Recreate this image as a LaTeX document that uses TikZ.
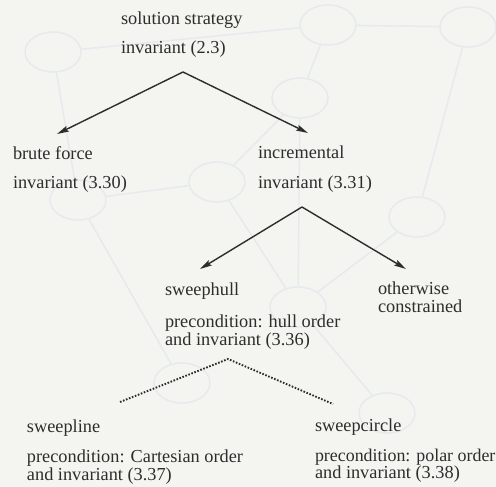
\documentclass[tikz,border=0pt]{standalone}
\usepackage{fontspec}
\setmainfont{Liberation Serif}
\usetikzlibrary{arrows.meta,shapes.geometric}
\definecolor{bgc}{RGB}{244,244,240}
\definecolor{ink}{RGB}{45,45,43}
\definecolor{ghost}{RGB}{229,234,237}
\begin{document}
\begin{tikzpicture}[x=1pt,y=-1pt,
  lbl/.style={anchor=base west,inner sep=0,outer sep=0,text=ink,font=\fontsize{18.3}{18}\selectfont},
  arr/.style={draw=ink,line width=1.4pt,-{Stealth[length=12pt,width=6pt,inset=2pt]}},
  dotl/.style={draw=ink,line width=1.9pt,dash pattern=on 1.6pt off 1.6pt},
  gnode/.style={ellipse,draw=ghost,line width=1.4pt,minimum width=56pt,minimum height=40pt,inner sep=0},
  gedge/.style={draw=ghost,line width=1.4pt}]
\fill[bgc] (0,0) rectangle (496,487);
\useasboundingbox (0,0) rectangle (496,487);
% faint background graph
\node[gnode] (g1) at (53,52) {};
\node[gnode] (g2) at (328,25) {};
\node[gnode] (g3) at (468,27) {};
\node[gnode] (g4) at (300,98) {};
\node[gnode] (g5) at (78,200) {};
\node[gnode] (g6) at (217,182) {};
\node[gnode] (g7) at (417,217) {};
\node[gnode] (g8) at (298,307) {};
\node[gnode] (g9) at (182,383) {};
\node[gnode] (g10) at (387,413) {};
\draw[gedge] (g1) -- (g2);
\draw[gedge] (g2) -- (g3);
\draw[gedge] (g2) -- (g4);
\draw[gedge] (g3) -- (g7);
\draw[gedge] (g1) -- (g5);
\draw[gedge] (g5) -- (g6);
\draw[gedge] (g4) -- (g6);
\draw[gedge] (g4) -- (g8);
\draw[gedge] (g6) -- (g8);
\draw[gedge] (g7) -- (g8);
\draw[gedge] (g5) -- (g9);
\draw[gedge] (g8) -- (g10);
% labels
\node[lbl] (ss) at (121,25) {solution strategy};
\node[lbl] (ssi) at (121,54) {invariant (2.3)};
\node[lbl] (bf) at (13,160) {brute force};
\node[lbl] (bfi) at (13,188) {invariant (3.30)};
\node[lbl] (inc) at (258,158) {incremental};
\node[lbl] (inci) at (258,188) {invariant (3.31)};
\node[lbl] (sh) at (165,295) {sweephull};
\node[lbl] (shp) at (165,327) {precondition: hull order};
\node[lbl] (shi) at (165,345) {and invariant (3.36)};
\node[lbl] (oc) at (378,294) {otherwise};
\node[lbl] (oc2) at (378,312) {constrained};
\node[lbl] (sl) at (27,432) {sweepline};
\node[lbl] (slp) at (27,462) {precondition: Cartesian order};
\node[lbl] (sli) at (27,480) {and invariant (3.37)};
\node[lbl] (sc) at (315,431) {sweepcircle};
\node[lbl,font=\fontsize{17.9}{18}\selectfont] (scp) at (315,461) {precondition: polar order};
\node[lbl] (sci) at (315,478) {and invariant (3.38)};
% connectors
\coordinate (a1) at (183,72);
\coordinate (t1) at (57,134);
\coordinate (t2) at (308,133);
\coordinate (a2) at (302,207);
\coordinate (t3) at (200,269);
\coordinate (t4) at (406,269);
\coordinate (a3) at (228,359);
\coordinate (d1) at (120,402);
\coordinate (d2) at (333,404);
\draw[arr] (a1) -- (t1);
\draw[arr] (a1) -- (t2);
\draw[arr] (a2) -- (t3);
\draw[arr] (a2) -- (t4);
\draw[dotl] (d1) -- (a3) -- (d2);
\end{tikzpicture}
\end{document}
